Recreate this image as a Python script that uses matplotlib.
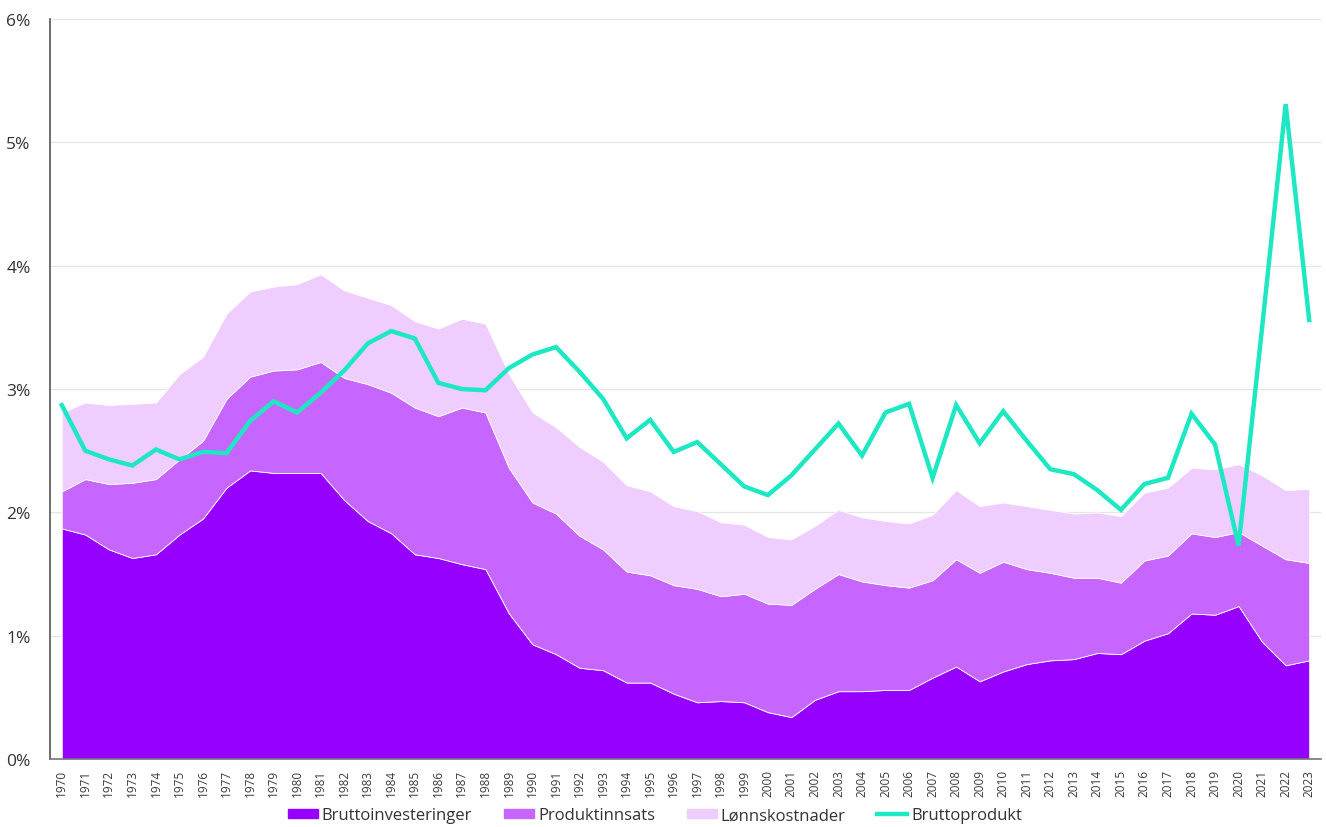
import numpy as np
import matplotlib.pyplot as plt
from matplotlib.ticker import FuncFormatter
from matplotlib.patches import Patch
from matplotlib.lines import Line2D

plt.rcParams["font.family"] = ["Open Sans", "DejaVu Sans"]

years = list(range(1970, 2024))

# cumulative tops (percent)
top_invest = [1.87, 1.82, 1.70, 1.63, 1.66, 1.82, 1.95, 2.20, 2.34, 2.32,
              2.32, 2.32, 2.10, 1.93, 1.83, 1.66, 1.63, 1.58, 1.54, 1.18,
              0.93, 0.85, 0.74, 0.72, 0.62, 0.62, 0.53, 0.46, 0.47, 0.46,
              0.38, 0.34, 0.48, 0.55, 0.55, 0.56, 0.56, 0.66, 0.75, 0.63,
              0.71, 0.77, 0.80, 0.81, 0.86, 0.85, 0.96, 1.02, 1.18, 1.17,
              1.24, 0.95, 0.76, 0.80]
top_prod = [2.17, 2.27, 2.23, 2.24, 2.27, 2.43, 2.58, 2.92, 3.10, 3.15,
            3.16, 3.22, 3.09, 3.04, 2.97, 2.85, 2.78, 2.85, 2.81, 2.36,
            2.08, 1.99, 1.81, 1.70, 1.52, 1.49, 1.41, 1.38, 1.32, 1.34,
            1.26, 1.25, 1.38, 1.50, 1.44, 1.41, 1.39, 1.45, 1.62, 1.51,
            1.60, 1.54, 1.51, 1.47, 1.47, 1.43, 1.61, 1.65, 1.83, 1.80,
            1.84, 1.73, 1.62, 1.59]
top_lonn = [2.81, 2.89, 2.87, 2.88, 2.89, 3.12, 3.26, 3.61, 3.79, 3.83,
            3.85, 3.93, 3.80, 3.74, 3.68, 3.55, 3.49, 3.57, 3.53, 3.12,
            2.81, 2.69, 2.53, 2.41, 2.22, 2.17, 2.05, 2.01, 1.92, 1.90,
            1.80, 1.78, 1.89, 2.02, 1.96, 1.93, 1.91, 1.98, 2.18, 2.05,
            2.08, 2.05, 2.02, 1.99, 2.00, 1.97, 2.16, 2.20, 2.36, 2.35,
            2.39, 2.30, 2.18, 2.19]
bruttoprodukt = [2.87, 2.50, 2.43, 2.38, 2.51, 2.43, 2.49, 2.48, 2.74, 2.90,
                 2.81, 2.97, 3.15, 3.37, 3.47, 3.41, 3.05, 3.00, 2.99, 3.17,
                 3.28, 3.34, 3.14, 2.92, 2.60, 2.75, 2.49, 2.57, 2.39, 2.21,
                 2.14, 2.30, 2.51, 2.72, 2.46, 2.81, 2.88, 2.28, 2.87, 2.56,
                 2.82, 2.58, 2.35, 2.31, 2.18, 2.02, 2.23, 2.28, 2.80, 2.55,
                 1.73, 3.50, 5.31, 3.56]

invest = np.array(top_invest)
prod = np.array(top_prod) - invest
lonn = np.array(top_lonn) - np.array(top_prod)

c_inv = "#9500FF"
c_prod = "#C666FF"
c_lonn = "#F0CDFF"
c_line = "#1EE8C4"

fig = plt.figure(figsize=(13.26, 8.28), dpi=100)
ax = fig.add_axes([0.0377, 0.0821, 0.9585, 0.8937])

x = np.arange(len(years))
ax.stackplot(x, invest, prod, lonn, colors=[c_inv, c_prod, c_lonn],
             edgecolor="white", linewidth=0.6, zorder=2)
ax.plot(x, bruttoprodukt, color=c_line, lw=3.2, zorder=3,
        solid_joinstyle="miter")

ax.set_xlim(-0.5, len(years) - 0.5)
ax.set_ylim(0, 6)
ax.set_yticks(range(0, 7))
ax.yaxis.set_major_formatter(FuncFormatter(lambda v, p: f"{int(v)}%"))
ax.grid(axis="y", color="#e6e6e6", lw=1, zorder=0)
ax.set_axisbelow(True)

ax.set_xticks(x)
ax.set_xticklabels([str(y) for y in years], rotation=90, fontsize=8.5,
                   color="#3a3a3a")
ax.tick_params(axis="y", labelsize=12.5, colors="#333333", length=0, pad=14)
ax.tick_params(axis="x", length=0, pad=7)

for s in ["top", "right"]:
    ax.spines[s].set_visible(False)
ax.spines["left"].set_color("#555555")
ax.spines["left"].set_linewidth(1.2)
ax.spines["bottom"].set_color("#777777")
ax.spines["bottom"].set_linewidth(1.2)

handles = [Patch(color=c_inv, label="Bruttoinvesteringer"),
           Patch(color=c_prod, label="Produktinnsats"),
           Patch(color=c_lonn, label="Lønnskostnader"),
           Line2D([], [], color=c_line, lw=3.2, label="Bruttoprodukt")]
fig.legend(handles=handles, loc="center", bbox_to_anchor=(0.494, 0.014), ncol=4,
           frameon=False, fontsize=12, handlelength=1.8, handleheight=0.5,
           columnspacing=1.9, handletextpad=0.25, labelcolor="#333333")

fig.savefig("out.png", dpi=100)
